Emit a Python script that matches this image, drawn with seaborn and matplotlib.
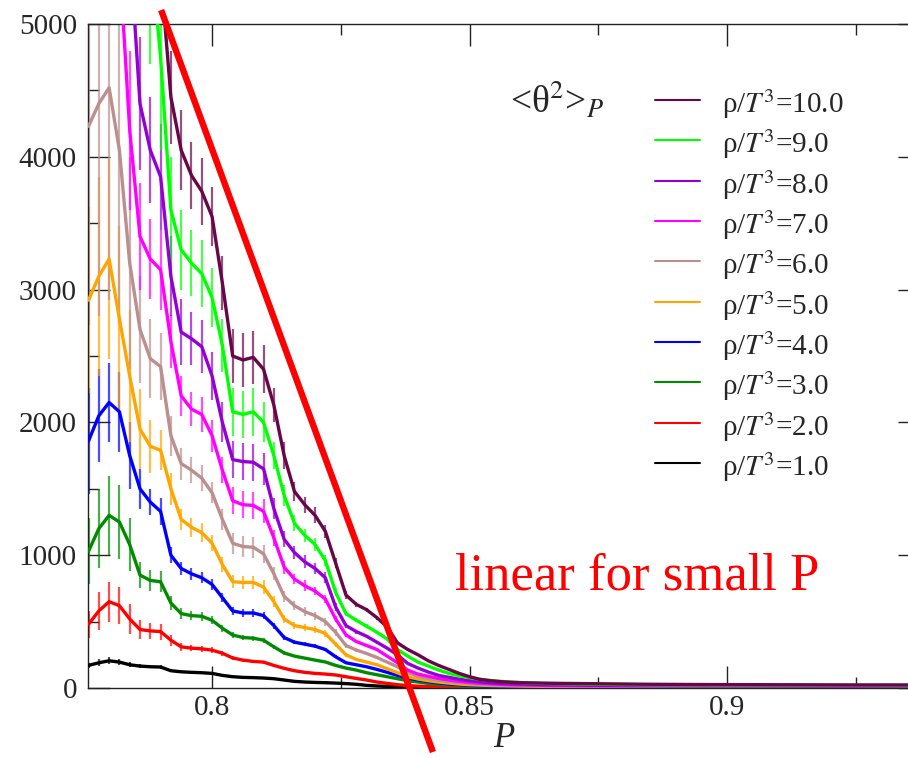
import numpy as np
import pandas as pd
import matplotlib
matplotlib.use("Agg")
import matplotlib.pyplot as plt
from matplotlib.lines import Line2D
from matplotlib.ticker import FixedLocator, MultipleLocator
import seaborn as sns

# ---------------- data ----------------
P_dense = [0.776, 0.778, 0.780, 0.782, 0.784, 0.786, 0.788, 0.790, 0.792, 0.794,
           0.796, 0.798, 0.800, 0.802, 0.804, 0.806, 0.808, 0.810, 0.812, 0.814,
           0.816, 0.818, 0.820, 0.822, 0.824, 0.826, 0.828, 0.830, 0.832, 0.834,
           0.836, 0.838, 0.840, 0.842, 0.844, 0.846, 0.848, 0.850, 0.852, 0.854,
           0.856, 0.858, 0.860]
P_tail = [0.865, 0.875, 0.885, 0.895, 0.905, 0.915, 0.925, 0.935, 0.945]

rho_labels = ["1.0", "2.0", "3.0", "4.0", "5.0", "6.0", "7.0", "8.0", "9.0", "10.0"]

theta_1 = [170, 190, 205, 195, 175, 165, 160, 158, 130, 122, 118, 115, 110, 95, 85, 80, 78, 75, 70, 60,
           50, 45, 42, 40, 37, 33, 28, 20, 15, 12, 10, 8, 7, 6, 6, 5, 5, 5, 5, 5, 4, 4, 4]
theta_2 = [480, 580, 650, 620, 520, 440, 430, 425, 360, 310, 300, 295, 285, 262, 226, 210, 200, 195, 170, 148,
           130, 118, 110, 105, 98, 85, 72, 60, 45, 35, 25, 18, 14, 11, 9, 8, 7, 6, 6, 6, 5, 5, 5]
theta_3 = [1030, 1200, 1300, 1250, 1080, 850, 810, 800, 640, 560, 545, 540, 510, 450, 399, 380, 375, 360, 310, 264,
           240, 225, 210, 196, 170, 150, 135, 115, 100, 85, 70, 55, 45, 35, 28, 22, 18, 15, 13, 12, 11, 10, 9]
theta_4 = [1860, 2050, 2150, 2080, 1750, 1500, 1400, 1330, 1000, 900, 860, 830, 780, 680, 580, 565, 565, 545, 470, 380,
           345, 330, 315, 290, 235, 190, 175, 160, 140, 118, 95, 75, 60, 48, 38, 30, 25, 20, 17, 15, 14, 13, 12]
theta_5 = [2920, 3100, 3230, 2780, 2350, 1950, 1820, 1790, 1500, 1270, 1210, 1170, 1090, 930, 800, 795, 795, 760, 650, 520,
           470, 455, 440, 410, 330, 250, 215, 195, 175, 145, 115, 85, 68, 55, 45, 37, 30, 25, 22, 19, 17, 16, 15]
theta_6 = [4230, 4400, 4520, 4050, 3200, 2700, 2480, 2420, 1900, 1690, 1640, 1580, 1470, 1270, 1090, 1065, 1060, 1010, 860, 690,
           620, 575, 545, 500, 420, 320, 286, 260, 230, 195, 160, 115, 90, 72, 58, 48, 40, 33, 28, 24, 21, 19, 18]
theta_7 = [6500, 6300, 6000, 5500, 4200, 3400, 3230, 3150, 2610, 2200, 2100, 2060, 1900, 1640, 1410, 1380, 1375, 1330, 1130, 910,
           820, 770, 730, 670, 520, 400, 350, 320, 290, 240, 190, 135, 105, 88, 72, 60, 50, 42, 36, 31, 28, 25, 23]
theta_8 = [7500, 7300, 7000, 6400, 5600, 4400, 4050, 3850, 3100, 2680, 2630, 2570, 2350, 2000, 1720, 1705, 1700, 1650, 1350, 1120,
           1020, 950, 900, 830, 610, 470, 425, 390, 345, 300, 250, 185, 150, 120, 95, 80, 66, 55, 46, 40, 35, 32, 30]
theta_9 = [8500, 8300, 8000, 7600, 7000, 6400, 5600, 4750, 3600, 3300, 3200, 3120, 2940, 2580, 2080, 2060, 2080, 2000, 1750, 1450,
           1240, 1150, 1080, 960, 720, 560, 510, 465, 420, 370, 290, 240, 195, 165, 135, 110, 92, 78, 66, 57, 50, 45, 41]
theta_10 = [9500, 9300, 9000, 8600, 8000, 7200, 6300, 5400, 4450, 4050, 3860, 3740, 3550, 3050, 2500, 2470, 2490, 2400, 2130, 1750,
            1480, 1380, 1300, 1180, 940, 700, 630, 590, 530, 460, 340, 290, 250, 205, 170, 140, 110, 85, 65, 55, 48, 43, 40]

tail_1 = [4, 3, 3, 2, 2, 2, 2, 2, 2]
tail_2 = [5, 4, 4, 3, 3, 3, 3, 3, 3]
tail_3 = [8, 7, 6, 6, 5, 5, 5, 5, 5]
tail_4 = [10, 9, 8, 8, 7, 7, 7, 7, 7]
tail_5 = [13, 11, 10, 10, 9, 9, 9, 9, 9]
tail_6 = [15, 13, 12, 12, 11, 11, 11, 11, 11]
tail_7 = [19, 16, 15, 14, 14, 13, 13, 13, 13]
tail_8 = [24, 20, 18, 17, 17, 16, 16, 16, 16]
tail_9 = [34, 28, 24, 22, 21, 20, 20, 19, 19]
tail_10 = [36, 32, 28, 26, 25, 24, 23, 23, 22]

err_1 = [20, 25, 25, 25, 20, 15, 12, 12, 10, 8, 8, 8, 7, 6, 6, 5, 5, 5, 5, 4,
         4, 4, 3, 3, 3, 3, 3, 2, 2, 2, 2, 2, 2, 2, 2, 2, 2, 2, 2, 2, 2, 2, 2]
err_2 = [100, 140, 150, 140, 110, 70, 60, 60, 40, 30, 25, 25, 20, 18, 15, 12, 12, 12, 10, 8,
         7, 6, 6, 5, 5, 5, 4, 4, 3, 3, 3, 3, 2, 2, 2, 2, 2, 2, 2, 2, 2, 2, 2]
err_3 = [250, 300, 300, 280, 200, 100, 80, 80, 50, 40, 35, 35, 30, 25, 20, 18, 18, 18, 15, 12,
         10, 10, 9, 8, 7, 6, 6, 5, 5, 4, 4, 3, 3, 3, 2, 2, 2, 2, 2, 2, 2, 2, 2]
err_4 = [400, 350, 300, 300, 250, 150, 100, 100, 60, 50, 45, 40, 40, 35, 30, 30, 30, 28, 22, 18,
         15, 14, 13, 12, 10, 8, 7, 6, 6, 5, 4, 4, 3, 3, 3, 2, 2, 2, 2, 2, 2, 2, 2]
err_5 = [700, 750, 750, 700, 500, 300, 200, 150, 120, 80, 70, 70, 60, 55, 50, 50, 50, 50, 40, 30,
         28, 28, 26, 24, 20, 15, 12, 10, 10, 8, 6, 5, 4, 3, 3, 3, 2, 2, 2, 2, 2, 2, 2]
err_6 = [1500, 1600, 1600, 1300, 800, 400, 300, 250, 150, 120, 100, 100, 80, 80, 80, 80, 80, 70, 50, 40,
         35, 35, 30, 30, 25, 20, 15, 12, 12, 10, 8, 6, 5, 4, 3, 3, 3, 2, 2, 2, 2, 2, 2]
err_7 = [800, 800, 800, 500, 600, 400, 300, 300, 200, 150, 130, 130, 120, 100, 100, 100, 100, 90, 60, 50,
         40, 40, 30, 30, 20, 15, 12, 10, 10, 8, 6, 5, 4, 4, 3, 3, 3, 2, 2, 2, 2, 2, 2]
err_8 = [900, 900, 900, 800, 600, 500, 400, 400, 300, 250, 200, 200, 180, 150, 140, 140, 140, 120, 80, 60,
         50, 50, 45, 40, 30, 20, 15, 12, 12, 10, 8, 6, 5, 4, 4, 3, 3, 3, 2, 2, 2, 2, 2]
err_9 = [1000, 1000, 1000, 1000, 1000, 1000, 900, 700, 400, 300, 250, 250, 220, 200, 180, 180, 180, 150, 100, 80,
         60, 50, 50, 40, 30, 20, 15, 15, 12, 10, 8, 6, 5, 5, 4, 3, 3, 3, 2, 2, 2, 2, 2]
err_10 = [1000, 1000, 1000, 1000, 1000, 1000, 1000, 400, 350, 300, 250, 250, 220, 200, 200, 200, 200, 180, 130, 100,
          70, 60, 60, 50, 40, 30, 20, 15, 15, 12, 10, 8, 6, 5, 4, 4, 3, 3, 3, 2, 2, 2, 2]

fit_P = [0.7901, 0.8429]
fit_theta = [5105, -482]

colors = ["#000000", "#ff0000", "#008b00", "#0000ff", "#ffa500",
          "#bc8f8f", "#ff00ff", "#9400d3", "#00ff00", "#670748"]

dense = [theta_1, theta_2, theta_3, theta_4, theta_5, theta_6, theta_7, theta_8, theta_9, theta_10]
tails = [tail_1, tail_2, tail_3, tail_4, tail_5, tail_6, tail_7, tail_8, tail_9, tail_10]
errs = [err_1, err_2, err_3, err_4, err_5, err_6, err_7, err_8, err_9, err_10]

rows = []
for lab, d, t in zip(rho_labels, dense, tails):
    for p, v in zip(P_dense + P_tail, d + t):
        rows.append({"P": p, "theta2": v, "rho": lab})
df = pd.DataFrame(rows)

# ---------------- style ----------------
sns.set_theme(style="ticks")
plt.rcParams["font.family"] = ["Liberation Serif", "DejaVu Serif"]
plt.rcParams["mathtext.fontset"] = "stix"

W, H = 908, 758
fig = plt.figure(figsize=(W / 100, H / 100), dpi=100)
ax = fig.add_axes([88 / W, (H - 688) / H, (920 - 88) / W, (688 - 24) / H])

palette = dict(zip(rho_labels, colors))
for k, (lab, e, col) in enumerate(zip(rho_labels, errs, colors)):
    ax.errorbar(P_dense, dense[k], yerr=e, fmt="none", ecolor=col, elinewidth=1.6,
                alpha=0.7, capsize=0, zorder=2 + k * 0.05)
sns.lineplot(data=df, x="P", y="theta2", hue="rho", hue_order=rho_labels,
             palette=palette, linewidth=2.4, legend=False, ax=ax,
             estimator=None, sort=False, zorder=3)

ax.plot(fit_P, fit_theta, color="#ff0000", lw=4.6, clip_on=False,
        solid_capstyle="butt", zorder=10)

ax.set_xlim(0.7759, 0.9375)
ax.set_ylim(0, 5000)
ax.xaxis.set_major_locator(FixedLocator([0.8, 0.85, 0.9]))
ax.set_xticklabels(["0.8", "0.85", "0.9"])
ax.xaxis.set_minor_locator(MultipleLocator(0.025))
ax.yaxis.set_major_locator(FixedLocator([0, 1000, 2000, 3000, 4000, 5000]))
ax.set_yticklabels(["0", "1000", "2000", "3000", "4000", "5000"])
ax.yaxis.set_minor_locator(MultipleLocator(500))
ax.tick_params(which="both", direction="in", top=True, right=True,
               width=1.0, color="#222222", labelsize=21)
ax.tick_params(which="major", length=16)
ax.tick_params(which="minor", length=8)
ax.tick_params(axis="y", pad=8)
ax.tick_params(axis="x", pad=5)
for s in ax.spines.values():
    s.set_linewidth(1.0)
    s.set_color("#222222")
ax.set_xlabel("P", fontstyle="italic", fontsize=25, labelpad=1)
ax.set_ylabel("")

# legend (manual, Grace-style)
def fx(px):
    return px / W

def fy(py):
    return 1 - py / H

fig.text(fx(510), fy(113), "<θ$^{2}$>$_{P}$", fontsize=27, va="baseline", ha="left")
for i, lab in enumerate(rho_labels[::-1]):
    col = palette[lab]
    y = 100 + i * 40.33
    fig.add_artist(Line2D([fx(655), fx(700)], [fy(y), fy(y)], color=col, lw=1.5,
                          transform=fig.transFigure))
    fig.text(fx(722), fy(y + 13), "ρ/$T^{3}$=" + lab, fontsize=21,
             va="baseline", ha="left")

fig.text(fx(455), fy(590), "linear for small P", color="#ff0000", fontsize=38,
         va="baseline", ha="left")

fig.savefig("out.png", dpi=100)
